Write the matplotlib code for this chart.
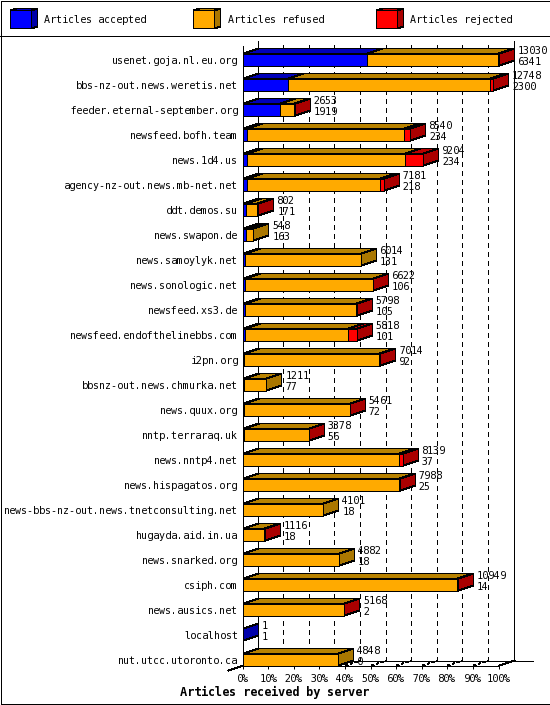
import math
import matplotlib
matplotlib.use("Agg")
import matplotlib.pyplot as plt
from matplotlib.patches import Polygon, Rectangle
from matplotlib.lines import Line2D
from matplotlib.transforms import Affine2D

W, H = 550, 705
servers = ["usenet.goja.nl.eu.org", "bbs-nz-out.news.weretis.net", "feeder.eternal-september.org",
           "newsfeed.bofh.team", "news.1d4.us", "agency-nz-out.news.mb-net.net", "ddt.demos.su",
           "news.swapon.de", "news.samoylyk.net", "news.sonologic.net", "newsfeed.xs3.de",
           "newsfeed.endofthelinebbs.com", "i2pn.org", "bbsnz-out.news.chmurka.net", "news.quux.org",
           "nntp.terraraq.uk", "news.nntp4.net", "news.hispagatos.org", "news-bbs-nz-out.news.tnetconsulting.net",
           "hugayda.aid.in.ua", "news.snarked.org", "csiph.com", "news.ausics.net", "localhost",
           "nut.utcc.utoronto.ca"]
totals = [13030, 12748, 2653, 8540, 9204, 7181, 802, 548, 6014, 6622, 5798, 5818, 7014, 1211, 5461,
          3378, 8139, 7988, 4101, 1116, 4882, 10949, 5168, 1, 4848]
accepted = [6341, 2300, 1919, 234, 234, 218, 171, 163, 131, 106, 105, 101, 92, 77, 72,
            56, 37, 25, 18, 18, 18, 14, 2, 1, 0]
rejected = [40, 180, 15, 300, 916, 200, 60, 0, 0, 8, 8, 430, 70, 0, 8,
            8, 190, 12, 0, 6, 0, 12, 12, 0, 0]
series_names = ["Articles accepted", "Articles refused", "Articles rejected"]
front_colors = ["#0000ff", "#ffaa00", "#ff0000"]
top_colors = ["#0000b8", "#b88200", "#b80000"]
side_colors = ["#0000aa", "#aa7700", "#aa0000"]
pct_ticks = list(range(0, 101, 10))
x_title = "Articles received by server"

plt.rcParams["font.family"] = ["DejaVu Sans Mono"]
plt.rcParams["text.antialiased"] = True
plt.rcParams["text.hinting"] = "force_autohint"
plt.rcParams["text.hinting_factor"] = 1
FS = 7.2
LW = 0.72
DX, DY = 15, 5
SCALE = max(totals)

fig = plt.figure(figsize=(W / 100, H / 100), dpi=100, facecolor="white")
L, R_, T, B = 242.6, 498.6, 45.7, 665.7
ROW0 = 59.7
ax = fig.add_axes([L / W, 1 - B / H, (R_ - L) / W, (B - T) / H])
ax.set_xlim(0, 100)
ax.set_ylim((B - ROW0) / 25, (T - ROW0) / 25)
ax.patch.set_visible(False)
for s in ["top", "right", "bottom"]:
    ax.spines[s].set_visible(False)
ax.spines["left"].set_linewidth(LW)
ax.spines["left"].set_antialiased(False)

y_bot, y_top = ax.get_ylim()
back = ax.transData + Affine2D().translate(DX, DY)

def snap(v):
    return math.floor(v + 0.5) + 0.5

def disp(x, y, depth=0):
    px, py = ax.transData.transform((x, y))
    return (snap(px) + DX * depth, snap(py) + DY * depth)

def seg(a, b, **kw):
    ax.add_line(Line2D([a[0], b[0]], [a[1], b[1]], transform=None, color="black", lw=LW,
                       antialiased=False, zorder=1, clip_on=False, **kw))

for p in pct_ticks:
    solid = p in (0, 100)
    ax.plot([p, p], [y_bot, y_top], transform=back, color="black", lw=LW, antialiased=False,
            clip_on=False, zorder=1, linestyle="-" if solid else (0, (5, 5)))
ax.plot([0, 107.5], [y_bot, y_bot], transform=back, color="black", lw=LW, antialiased=False,
        clip_on=False, zorder=1)
ax.plot([0, 100], [y_bot, y_bot], color="black", lw=LW, antialiased=False, clip_on=False, zorder=1)
for p in pct_ticks[1:-1]:
    seg(disp(p, y_bot), disp(p, y_bot, 1), linestyle=(0, (2.5, 2.5)))
seg(disp(100, y_bot), disp(100, y_bot, 1))
seg(disp(0, y_bot), disp(0, y_bot, -1))

bar_h = 0.48
for i in range(len(servers)):
    vals = [accepted[i], totals[i] - accepted[i] - rejected[i], rejected[i]]
    left = 0.0
    last = max(k for k, v in enumerate(vals) if v > 0)
    z = 3 + i * 0.01
    for k, v in enumerate(vals):
        if v <= 0:
            continue
        w = v / SCALE * 100
        yt, yb = i - bar_h / 2, i + bar_h / 2
        ax.add_patch(Polygon([disp(left, yt), disp(left + w, yt), disp(left + w, yt, 1), disp(left, yt, 1)],
                             transform=None, facecolor=top_colors[k], edgecolor="black", lw=LW,
                             antialiased=False, zorder=z, clip_on=False, snap=False))
        ax.barh(i, w, left=left, height=bar_h, color=front_colors[k], edgecolor="black", linewidth=LW,
                antialiased=False, zorder=z + 0.002, clip_on=False)
        if k == last:
            ax.add_patch(Polygon([disp(left + w, yt), disp(left + w, yb), disp(left + w, yb, 1), disp(left + w, yt, 1)],
                                 transform=None, facecolor=side_colors[k], edgecolor="black", lw=LW,
                                 antialiased=False, zorder=z + 0.003, clip_on=False, snap=False))
        left += w
    xe = totals[i] / SCALE * 100
    ax.annotate(str(totals[i]), (xe, i), xytext=(DX + 4, 9), textcoords="offset pixels",
                fontsize=FS, va="center", ha="left", zorder=6, annotation_clip=False)
    ax.annotate(str(accepted[i]), (xe, i), xytext=(DX + 4, -2), textcoords="offset pixels",
                fontsize=FS, va="center", ha="left", zorder=6, annotation_clip=False)

ax.set_yticks(range(len(servers)), servers, fontsize=FS)
ax.tick_params(axis="y", length=0, pad=3)
ax.set_xticks(pct_ticks, [f"{p}%" for p in pct_ticks], fontsize=FS)
ax.tick_params(axis="x", length=2.2, width=LW, pad=3.5)
for t in ax.xaxis.get_major_ticks():
    t.tick1line.set_antialiased(False)

fig.text(274.5 / W, 1 - 692 / H, x_title, fontsize=8.4, fontweight="bold", ha="center", va="center")

fy = lambda p: H - p
for x0, tx, name, c, t_c, s_c in zip([10.5, 193.5, 376.5], [44.5, 227.5, 410.5], series_names,
                                      front_colors, top_colors, side_colors):
    y0, y1, w = 10.5, 28.5, 21
    fig.add_artist(Polygon([(x0, fy(y0)), (x0 + w, fy(y0)), (x0 + w + 6, fy(y0 - 2)), (x0 + 6, fy(y0 - 2))],
                           transform=None, facecolor=t_c, edgecolor="black", lw=LW, antialiased=False, snap=False))
    fig.add_artist(Polygon([(x0 + w, fy(y0)), (x0 + w + 6, fy(y0 - 2)), (x0 + w + 6, fy(y1 - 2)), (x0 + w, fy(y1))],
                           transform=None, facecolor=s_c, edgecolor="black", lw=LW, antialiased=False, snap=False))
    fig.add_artist(Polygon([(x0, fy(y0)), (x0 + w, fy(y0)), (x0 + w, fy(y1)), (x0, fy(y1))],
                           transform=None, facecolor=c, edgecolor="black", lw=LW, antialiased=False, snap=False))
    fig.text(tx / W, 1 - 20 / H, name, fontsize=FS, ha="left", va="center")

fig.add_artist(Line2D([0, W], [H - 35.5, H - 35.5], transform=None, color="black", lw=LW, antialiased=False))
fig.add_artist(Rectangle((0.5, 1.5), W - 1, H - 2, transform=None, fill=False, edgecolor="black",
                         lw=LW, antialiased=False))

fig.savefig("out.png", dpi=100, facecolor="white")
